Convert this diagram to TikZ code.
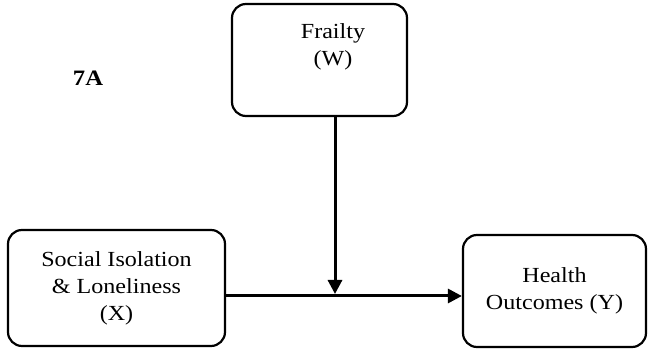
\documentclass[tikz,border=0pt]{standalone}
\usepackage{fontspec}
\setmainfont{Liberation Serif}[FakeStretch=1.12]
\usetikzlibrary{arrows.meta}

\begin{document}
\begin{tikzpicture}[x=1pt, y=-1pt,
		box/.style={draw, line width=2.2pt, rounded corners=14pt, inner sep=0pt},
		lbl/.style={align=center, font=\fontsize{21.5}{27}\selectfont},
		link/.style={line width=3pt, -{Triangle[length=14pt,width=14pt]}}]
				\useasboundingbox (0,0) rectangle (654,352);
				\node[box, minimum width=175pt, minimum height=112pt] (frailty) at (319.5,60) {};
				\node[box, minimum width=217pt, minimum height=116pt, lbl] (social) at (116.5,288) {Social Isolation\\ \& Loneliness\\ (X)};
				\node[box, minimum width=183pt, minimum height=112pt, lbl] (health) at (554.5,291) {Health\\ Outcomes (Y)};
				\node[lbl] (frailtytxt) at (333,47) {Frailty\\ (W)};
				\node[font=\fontsize{22}{24}\selectfont\bfseries] (tag) at (88,78) {7A};
				\coordinate (mid) at (335,296);
				\draw[link] (social.east |- mid) -- (health.west |- mid);
				\draw[link, shorten >=2pt] (frailty.south -| mid) -- (mid);
			\end{tikzpicture}
\end{document}
